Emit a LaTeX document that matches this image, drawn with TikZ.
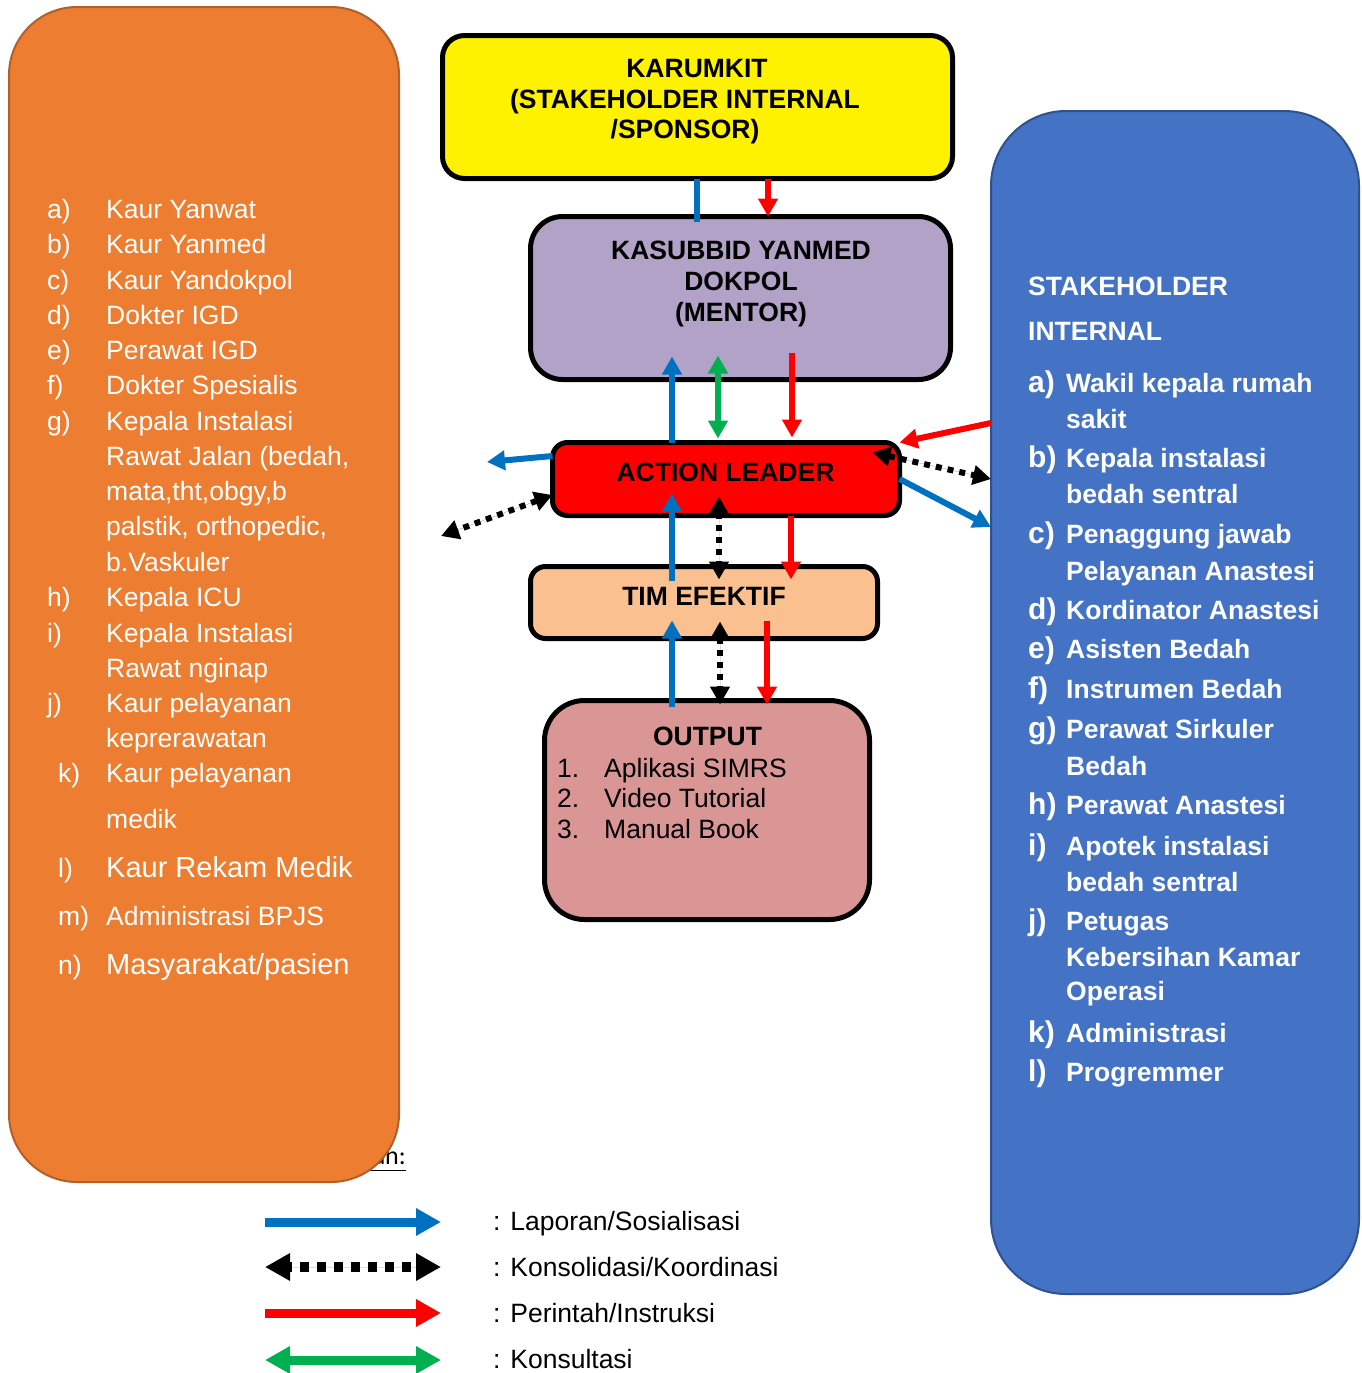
\documentclass[tikz,border=0pt]{standalone}
\usepackage{fontspec}
\setmainfont{Liberation Sans}
\newfontfamily\calibfont{Carlito}
\usetikzlibrary{arrows.meta,calc}
\definecolor{orgfill}{HTML}{ED7D31}
\definecolor{orgedge}{HTML}{B1602A}
\definecolor{bluefill}{HTML}{4472C4}
\definecolor{blueedge}{HTML}{2F528F}
\definecolor{purp}{HTML}{B3A2C7}
\definecolor{timfill}{HTML}{FAC090}
\definecolor{outfill}{HTML}{D99694}
\definecolor{arrblue}{HTML}{0070C0}
\definecolor{arrgreen}{HTML}{00B050}
\definecolor{arrred}{HTML}{FF0000}
\begin{document}
\begin{tikzpicture}[x=1pt,y=-1pt,
  >={Triangle[length=18pt,width=19pt]},
  cbox/.style={draw=black, line width=5pt, rounded corners=#1, outer sep=0pt, inner sep=0pt},
  bigbox/.style={line width=2pt, rounded corners=#1, outer sep=0pt, inner sep=0pt},
  ctxt/.style={anchor=base, inner sep=0pt, font=\bfseries\fontsize{26.5}{32}\selectfont},
  otxt/.style={anchor=base west, inner sep=0pt, font=\fontsize{26.5}{32}\selectfont},
  ltxt/.style={anchor=base west, inner sep=0pt, text=white, font=\fontsize{26.5}{32}\selectfont},
  lbig/.style={anchor=base west, inner sep=0pt, text=white, font=\fontsize{29}{34}\selectfont},
  rtxt/.style={anchor=base west, inner sep=0pt, text=white, font=\bfseries\fontsize{26.5}{32}\selectfont},
  rlab/.style={anchor=base west, inner sep=0pt, text=white, font=\bfseries\fontsize{30}{34}\selectfont},
  bluearr/.style={draw=arrblue, fill=arrblue, line width=6pt, ->},
  redarr/.style={draw=arrred, fill=arrred, line width=6pt, ->},
  greenarr/.style={draw=arrgreen, fill=arrgreen, line width=6pt, <->},
  dotarr/.style={draw=black, fill=black, line width=6pt, dash pattern=on 6pt off 6pt, <->},
  legline/.style={line width=9pt, >={Triangle[length=25pt,width=26pt]}},
  legtxt/.style={anchor=base west, inner sep=0pt, font=\fontsize{26.5}{32}\selectfont}
]
\useasboundingbox (0,0) rectangle (1361,1373);
\fill[white] (0,0) rectangle (1361,1373);

% partly hidden legend title
\node[anchor=base east, inner sep=0pt, font=\calibfont\fontsize{26}{30}\selectfont] (ket) at (406,1164) {\underline{Keterangan:}};

% side boxes
\node[bigbox=68pt, draw=orgedge, fill=orgfill, minimum width=390pt, minimum height=1175pt] (stakeL) at (204,594.5) {};
\node[bigbox=75pt, draw=blueedge, fill=bluefill, minimum width=368pt, minimum height=1183pt] (stakeR) at (1175,702.5) {};

% left list
\node[ltxt] (la) at (47,218) {a)};  \node[ltxt] (ta) at (106,218) {Kaur Yanwat};
\node[ltxt] (lb) at (47,253) {b)};  \node[ltxt] (tb) at (106,253) {Kaur Yanmed};
\node[ltxt] (lc) at (47,289) {c)};  \node[ltxt] (tc) at (106,289) {Kaur Yandokpol};
\node[ltxt] (ld) at (47,324) {d)};  \node[ltxt] (td) at (106,324) {Dokter IGD};
\node[ltxt] (le) at (47,359) {e)};  \node[ltxt] (te) at (106,359) {Perawat IGD};
\node[ltxt] (lf) at (47,394) {f)};  \node[ltxt] (tf) at (106,394) {Dokter Spesialis};
\node[ltxt] (lg) at (47,430) {g)};  \node[ltxt] (tg1) at (106,430) {Kepala Instalasi};
\node[ltxt] (tg2) at (106,465) {Rawat Jalan (bedah,};
\node[ltxt] (tg3) at (106,500) {mata,tht,obgy,b};
\node[ltxt] (tg4) at (106,535) {palstik, orthopedic,};
\node[ltxt] (tg5) at (106,571) {b.Vaskuler};
\node[ltxt] (lh) at (47,606) {h)};  \node[ltxt] (th) at (106,606) {Kepala ICU};
\node[ltxt] (li) at (47,642) {i)};  \node[ltxt] (ti1) at (106,642) {Kepala Instalasi};
\node[ltxt] (ti2) at (106,677) {Rawat nginap};
\node[ltxt] (lj) at (47,712) {j)};  \node[ltxt] (tj1) at (106,712) {Kaur pelayanan};
\node[ltxt] (tj2) at (106,747) {keprerawatan};
\node[ltxt] (lk) at (58,782) {k)};  \node[ltxt] (tk1) at (106,782) {Kaur pelayanan};
\node[ltxt] (tk2) at (106,828) {medik};
\node[ltxt] (ll) at (58,877) {l)};  \node[lbig] (tl) at (106,877) {Kaur Rekam Medik};
\node[ltxt] (lm) at (58,925) {m)};  \node[ltxt] (tm) at (106,925) {Administrasi BPJS};
\node[ltxt] (ln) at (58,974) {n)};  \node[lbig] (tn) at (106,974) {Masyarakat/pasien};

% right list
\node[rtxt] (rh1) at (1028,295) {STAKEHOLDER};
\node[rtxt] (rh2) at (1028,340) {INTERNAL};
\node[rlab] (ra) at (1028,392) {a)};  \node[rtxt] (sa1) at (1066,392) {Wakil kepala rumah};
\node[rtxt] (sa2) at (1066,428) {sakit};
\node[rlab] (rb) at (1028,467) {b)};  \node[rtxt] (sb1) at (1066,467) {Kepala instalasi};
\node[rtxt] (sb2) at (1066,503) {bedah sentral};
\node[rlab] (rc) at (1028,543) {c)};  \node[rtxt] (sc1) at (1066,543) {Penaggung jawab};
\node[rtxt] (sc2) at (1066,580) {Pelayanan Anastesi};
\node[rlab] (rd) at (1028,619) {d)};  \node[rtxt] (sd) at (1066,619) {Kordinator Anastesi};
\node[rlab] (re) at (1028,658) {e)};  \node[rtxt] (se) at (1066,658) {Asisten Bedah};
\node[rlab] (rf) at (1028,698) {f)};  \node[rtxt] (sf) at (1066,698) {Instrumen Bedah};
\node[rlab] (rg) at (1028,738) {g)};  \node[rtxt] (sg1) at (1066,738) {Perawat Sirkuler};
\node[rtxt] (sg2) at (1066,775) {Bedah};
\node[rlab] (rhh) at (1028,814) {h)}; \node[rtxt] (sh) at (1066,814) {Perawat Anastesi};
\node[rlab] (ri) at (1028,855) {i)};  \node[rtxt] (si1) at (1066,855) {Apotek instalasi};
\node[rtxt] (si2) at (1066,891) {bedah sentral};
\node[rlab] (rj) at (1028,930) {j)};  \node[rtxt] (sj1) at (1066,930) {Petugas};
\node[rtxt] (sj2) at (1066,966) {Kebersihan Kamar};
\node[rtxt] (sj3) at (1066,1000) {Operasi};
\node[rlab] (rk) at (1028,1042) {k)}; \node[rtxt] (sk) at (1066,1042) {Administrasi};
\node[rlab] (rl) at (1028,1081) {l)}; \node[rtxt] (sl) at (1066,1081) {Progremmer};

% centre boxes
\node[cbox=22pt, fill=yellow, minimum width=510pt, minimum height=143pt] (karumkit) at (697.5,107) {};
\node[cbox=32pt, fill=purp, minimum width=420pt, minimum height=163pt] (mentor) at (740.5,298) {};
\node[cbox=15pt, fill=arrred, minimum width=347pt, minimum height=73pt] (leader) at (726,479) {};
\node[cbox=15pt, fill=timfill, minimum width=347pt, minimum height=72pt] (tim) at (704,602.5) {};
\node[cbox=40pt, fill=outfill, minimum width=325pt, minimum height=219pt] (output) at (707,810) {};

\node[ctxt] (k1) at (697,77) {KARUMKIT};
\node[ctxt] (k2) at (685,108) {(STAKEHOLDER INTERNAL};
\node[ctxt] (k3) at (685,138) {/SPONSOR)};
\node[ctxt] (m1) at (741,259) {KASUBBID YANMED};
\node[ctxt] (m2) at (741,290) {DOKPOL};
\node[ctxt] (m3) at (741,321) {(MENTOR)};
\node[ctxt] (al) at (725.5,481) {ACTION LEADER};
\node[ctxt] (te1) at (704,605) {TIM EFEKTIF};
\node[ctxt] (o0) at (707.5,745) {OUTPUT};
\node[otxt] (o1n) at (557,777) {1.}; \node[otxt] (o1) at (604,777) {Aplikasi SIMRS};
\node[otxt] (o2n) at (557,807) {2.}; \node[otxt] (o2) at (604,807) {Video Tutorial};
\node[otxt] (o3n) at (557,838) {3.}; \node[otxt] (o3) at (604,838) {Manual Book};

% connectors
\draw[draw=arrblue, line width=6pt] (karumkit.south -| 697,0) -- ($(mentor.north -| 697,0)+(0,5)$);
\draw[redarr] (karumkit.south -| 768,0) -- (mentor.north -| 768,0);
\draw[bluearr] (leader.north -| 672,0) -- ++(0,-86);
\draw[greenarr] ($(leader.north -| 718,0)+(0,-4)$) -- ++(0,-83);
\draw[redarr] ($(mentor.south -| 792,0)+(0,-27)$) -- ($(leader.north -| 792,0)+(0,-5)$);
\draw[redarr] (stakeR.west |- 0,423) -- (leader.north east);
\draw[dotarr] ($(leader.north east)+(-27,10)$) -- (stakeR.west |- 0,479);
\draw[bluearr] (leader.east) -- (stakeR.west |- 0,527);
\coordinate (blueL) at (487,462);
\coordinate (dotL) at (441,536);
\draw[bluearr] (leader.west |- 0,456) -- (blueL);
\draw[dotarr] (leader.west |- 0,495) -- (dotL);
\draw[bluearr] ($(tim.north -| 672,0)+(0,14)$) -- ++(0,-87);
\draw[dotarr] ($(leader.south -| 719,0)+(0,-19)$) -- ($(tim.north -| 719,0)+(0,13)$);
\draw[redarr] (leader.south -| 791,0) -- ($(tim.north -| 791,0)+(0,13)$);
\draw[bluearr] ($(output.north -| 672,0)+(0,6)$) -- ++(0,-86);
\draw[dotarr] ($(tim.south -| 720,0)+(0,-17)$) -- ($(output.north -| 720,0)+(0,4)$);
\draw[redarr] ($(tim.south -| 767,0)+(0,-18)$) -- ($(output.north -| 767,0)+(0,4)$);

% legend
\coordinate (lg1a) at (265,1222); \coordinate (lg1b) at (441,1222);
\coordinate (lg2a) at (265,1267); \coordinate (lg2b) at (441,1267);
\coordinate (lg3a) at (265,1313); \coordinate (lg3b) at (441,1313);
\coordinate (lg4a) at (265,1360); \coordinate (lg4b) at (441,1360);
\draw[legline, draw=arrblue, fill=arrblue, ->] (lg1a) -- (lg1b);
\draw[legline, draw=black, fill=black, line width=10pt, dash pattern=on 9pt off 8pt, dash phase=-12pt, <->] (lg2a) -- (lg2b);
\draw[legline, draw=arrred, fill=arrred, ->] (lg3a) -- (lg3b);
\draw[legline, draw=arrgreen, fill=arrgreen, <->] (lg4a) -- (lg4b);
\node[legtxt] (lt1) at (493,1230) {: Laporan/Sosialisasi};
\node[legtxt] (lt2) at (493,1276) {: Konsolidasi/Koordinasi};
\node[legtxt] (lt3) at (493,1322) {: Perintah/Instruksi};
\node[legtxt] (lt4) at (493,1368) {: Konsultasi};
\end{tikzpicture}
\end{document}
